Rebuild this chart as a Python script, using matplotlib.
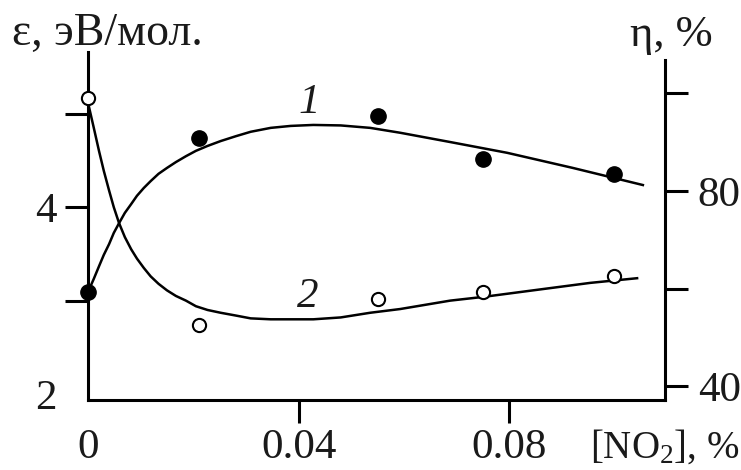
import matplotlib
matplotlib.use('Agg')
import matplotlib.pyplot as plt

plt.rcParams['font.family'] = ['Liberation Serif', 'DejaVu Serif']
plt.rcParams['mathtext.fontset'] = 'custom'
plt.rcParams['mathtext.rm'] = 'Liberation Serif'
plt.rcParams['mathtext.it'] = 'Liberation Serif:italic'

# ==============================
# DATA
# ==============================

# measured points, curve 1 (eta, %) -- filled dots
x_pts1 = [0.0, 0.021, 0.055, 0.075, 0.1]
eta_pts = [59.3, 90.8, 95.3, 86.5, 83.5]

# measured points, curve 2 (eps, eV/mol) -- open dots
x_pts2 = [0.0, 0.021, 0.055, 0.075, 0.1]
eps_pts = [5.17, 2.74, 3.02, 3.09, 3.26]

# fitted curve 1 (traced)
x_fit1 = [0.0, 0.0011, 0.0021, 0.0030, 0.0040, 0.0049, 0.0059, 0.0070,
          0.0082, 0.0093, 0.0106, 0.0119, 0.0134, 0.0150, 0.0167, 0.0186,
          0.0205, 0.0227, 0.0252, 0.0281, 0.0309, 0.0347, 0.0385, 0.0428,
          0.0480, 0.0536, 0.0593, 0.0688, 0.0796, 0.0921, 0.1054]
eta_fit = [59.3, 62.0, 64.6, 66.9, 69.1, 71.4, 73.4, 75.5,
           77.3, 79.0, 80.6, 82.0, 83.5, 84.7, 85.9, 87.1,
           88.2, 89.2, 90.2, 91.2, 92.1, 92.9, 93.3, 93.5,
           93.4, 92.9, 91.9, 90.0, 87.8, 84.7, 81.2]

# fitted curve 2 (traced)
x_fit2 = [0.0, 0.0011, 0.0021, 0.0030, 0.0040, 0.0049, 0.0059, 0.0070,
          0.0082, 0.0093, 0.0106, 0.0119, 0.0134, 0.0150, 0.0167, 0.0186,
          0.0205, 0.0227, 0.0252, 0.0281, 0.0309, 0.0347, 0.0385, 0.0428,
          0.0480, 0.0536, 0.0593, 0.0688, 0.0751, 0.0859, 0.0954, 0.1043]
eps_fit = [5.12, 4.85, 4.60, 4.39, 4.18, 4.00, 3.83, 3.68,
           3.55, 3.45, 3.35, 3.26, 3.18, 3.11, 3.05, 3.00,
           2.94, 2.90, 2.87, 2.84, 2.81, 2.80, 2.80, 2.80,
           2.82, 2.87, 2.91, 3.00, 3.04, 3.12, 3.19, 3.24]

x_ticks = [0, 0.04, 0.08]
x_ticklabels = ['0', '0.04', '0.08']
eps_ticks = [2, 3, 4, 5]
eps_ticklabels = ['2', '', '4', '']
eta_ticks = [40, 60, 80, 100]
eta_ticklabels = ['40', '', '80', '']

# ==============================
# PLOT
# ==============================
W, H = 741, 470
fig = plt.figure(figsize=(W / 100, H / 100), dpi=100)
ax = fig.add_axes([88 / W, 1 - 400 / H, (665 - 88) / W, (400 - 52) / H])
ax2 = ax.twinx()

txt = '#1a1a1a'
fs = 31
lw_sp = 2.2

ax.set_xlim(0, 0.1096)
ax.set_ylim(1.936, 5.662)
ax2.set_ylim(37.2, 108.43)

# curves
ax2.plot(x_fit1, eta_fit, color='black', lw=1.8, solid_joinstyle='round')
ax.plot(x_fit2, eps_fit, color='black', lw=1.8, solid_joinstyle='round')

# points
ax2.plot(x_pts1, eta_pts, 'o', color='black', ms=11, clip_on=False, zorder=5)
ax.plot(x_pts2, eps_pts, 'o', mfc='white', mec='black', mew=1.5, ms=9.5,
        clip_on=False, zorder=5)

# curve labels
ax2.text(0.0421, 98.0, '1', fontsize=fs, style='italic', color=txt,
         ha='center', va='center')
ax.text(0.0417, 3.04, '2', fontsize=fs, style='italic', color=txt,
        ha='center', va='center')

# spines
for s in ['top', 'right']:
    ax.spines[s].set_visible(False)
for s in ['top', 'left', 'bottom']:
    ax2.spines[s].set_visible(False)
ax.spines['left'].set_linewidth(lw_sp)
ax.spines['bottom'].set_linewidth(lw_sp)
ax2.spines['right'].set_linewidth(lw_sp)
ax2.spines['right'].set_bounds(37.2, 106.8)

# ticks
ax.set_xticks(x_ticks)
ax.set_xticklabels(x_ticklabels)
ax.set_yticks(eps_ticks)
ax.set_yticklabels(eps_ticklabels)
ax2.set_yticks(eta_ticks)
ax2.set_yticklabels(eta_ticklabels)

ax.tick_params(axis='both', direction='out', length=16.5, width=lw_sp,
               labelsize=fs, labelcolor=txt, pad=4)
ax.tick_params(axis='y', pad=6)
ax2.tick_params(axis='y', direction='out', length=16.5, width=lw_sp,
                labelsize=fs, labelcolor=txt, pad=7)

ax.xaxis.get_major_ticks()[0].tick1line.set_visible(False)
ax.yaxis.get_major_ticks()[0].tick1line.set_visible(False)

# axis titles
fig.text(12 / W, 1 - 45 / H, 'ε, эВ/мол.', fontsize=33, color=txt,
         ha='left', va='baseline')
fig.text(630 / W, 1 - 46 / H, 'η, %', fontsize=32, color=txt,
         ha='left', va='baseline')
fig.text(590 / W, 1 - 458 / H, '[NO$_2$], %', fontsize=28, color=txt,
         ha='left', va='baseline')

fig.savefig('out.png', dpi=100)
